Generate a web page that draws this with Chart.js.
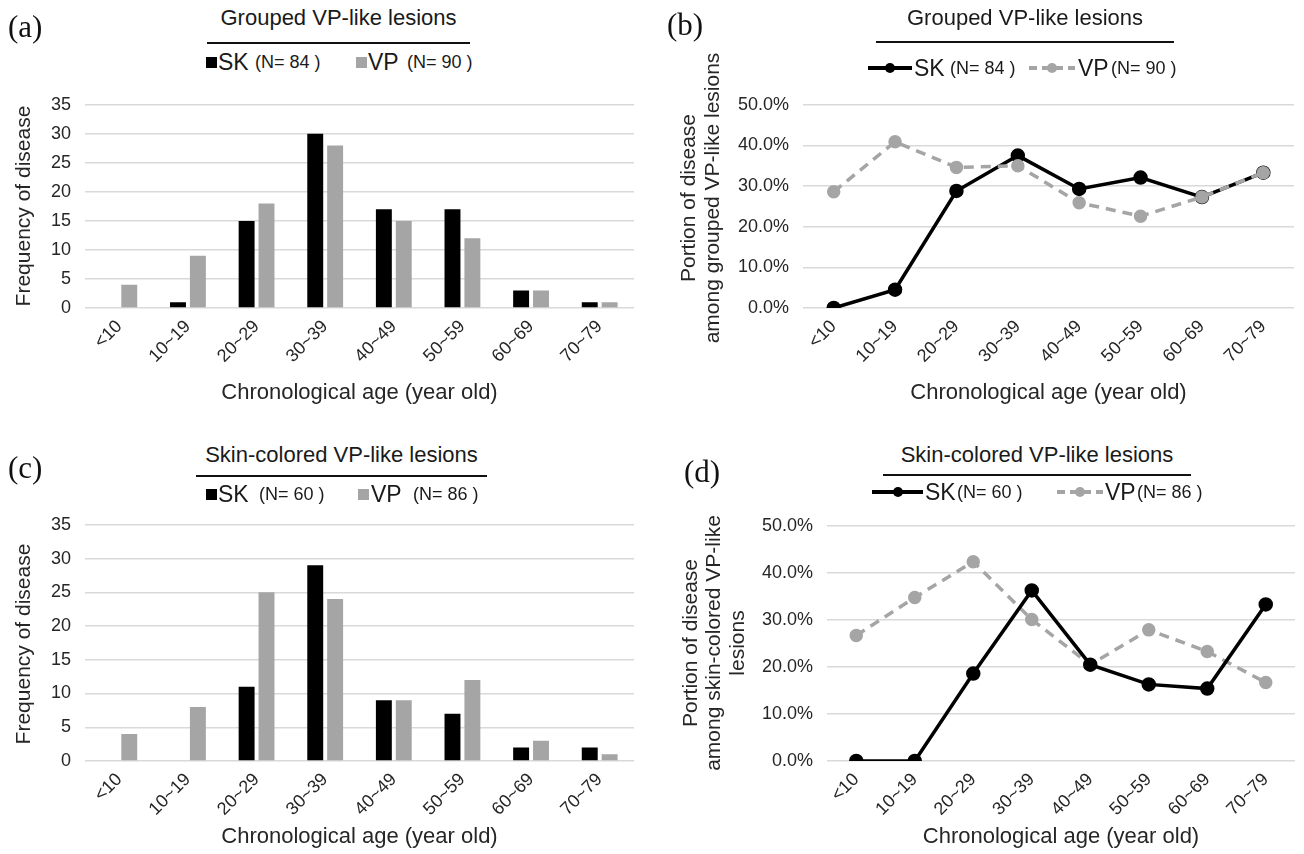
<!DOCTYPE html>
<html>
<head>
<meta charset="utf-8">
<script src="https://cdn.jsdelivr.net/npm/chart.js@4/dist/chart.umd.min.js"></script>
<style>
  html, body { margin: 0; padding: 0; background: #fff; }
  body { width: 1304px; height: 854px; position: relative; overflow: hidden;
         font-family: 'Liberation Sans', Arial, sans-serif; color: #1a1a1a; }
  canvas { position: absolute; }
  .abs { position: absolute; white-space: nowrap; }
  .plabel { font-family: 'Liberation Serif', 'Times New Roman', serif; font-size: 31px; line-height: 34px; color: #111; }
  .ttl { font-size: 22px; line-height: 24px; text-align: center; }
  .big { font-size: 23px; line-height: 26px; }
  .small { font-size: 18px; line-height: 26px; }
  .ytitle { font-size: 21px; line-height: 24px; color: #262626; transform: translate(-50%, -50%) rotate(-90deg); }
</style>
</head>
<body>
<canvas id="chartA" width="650" height="330" style="left:0;top:80px"></canvas>
<canvas id="chartB" width="654" height="330" style="left:650px;top:80px"></canvas>
<canvas id="chartC" width="650" height="350" style="left:0;top:500px"></canvas>
<canvas id="chartD" width="654" height="350" style="left:650px;top:500px"></canvas>
<div id="overlay"></div>
<script>
// 年龄分组
const ageGroups = ['<10', '10~19', '20~29', '30~39', '40~49', '50~59', '60~69', '70~79'];

// (a) grouped VP-like lesions, counts
const groupedSkCount = [0, 1, 15, 30, 17, 17, 3, 1];
const groupedVpCount = [4, 9, 18, 28, 15, 12, 3, 1];

// (b) grouped VP-like lesions, portion (%)
const groupedSkPortion = [0, 4.5, 28.8, 37.5, 29.3, 32.1, 27.3, 33.3];
const groupedVpPortion = [28.6, 40.9, 34.6, 35.0, 25.9, 22.6, 27.3, 33.3];

// (c) skin-colored VP-like lesions, counts
const skinSkCount = [0, 0, 11, 29, 9, 7, 2, 2];
const skinVpCount = [4, 8, 25, 24, 9, 12, 3, 1];

// (d) skin-colored VP-like lesions, portion (%)
const skinSkPortion = [0, 0, 18.6, 36.3, 20.5, 16.3, 15.4, 33.3];
const skinVpPortion = [26.7, 34.8, 42.4, 30.1, 20.5, 27.9, 23.3, 16.7];

const countTicks = [0, 5, 10, 15, 20, 25, 30, 35];
const portionTicks = [0, 10, 20, 30, 40, 50];

const colors = {
    sk: '#000000',
    vp: '#a5a5a5',
    grid: '#d9d9d9',
    text: '#262626'
};

Chart.defaults.font.family = "'Liberation Sans', Arial, sans-serif";
Chart.defaults.color = colors.text;

const xTitle = 'Chronological age (year old)';

function xScale(height, titlePad) {
    return {
        offset: true,
        grid: { display: false, drawTicks: false },
        border: { display: false },
        ticks: { font: { size: 18 }, maxRotation: 45, minRotation: 45, padding: 8, color: colors.text },
        title: { display: true, text: xTitle, font: { size: 22 }, color: colors.text, padding: { top: 0, bottom: titlePad } },
        afterFit: s => { s.height = height; }
    };
}

function yScale(width, max, step, fmt) {
    return {
        min: 0,
        max: max,
        grid: { color: colors.grid, lineWidth: 1.5, drawTicks: false },
        border: { display: false },
        ticks: { stepSize: step, font: { size: 18 }, padding: 14, color: colors.text, callback: fmt },
        afterFit: s => { s.width = width; }
    };
}

function baseOptions(padTop, padRight) {
    return {
        responsive: false,
        animation: false,
        devicePixelRatio: 1,
        layout: { padding: { top: padTop, right: padRight, bottom: 0, left: 0 } },
        plugins: { legend: { display: false }, tooltip: { enabled: false } }
    };
}

function renderBarChart(id, sk, vp, opts) {
    const o = baseOptions(opts.padTop, opts.padRight);
    o.scales = {
        x: xScale(opts.xHeight, opts.xTitlePad),
        y: yScale(opts.yWidth, countTicks[countTicks.length - 1], 5, v => v)
    };
    return new Chart(document.getElementById(id), {
        type: 'bar',
        data: {
            labels: ageGroups,
            datasets: [
                { label: 'SK', data: sk, backgroundColor: colors.sk, barPercentage: 0.8, categoryPercentage: 0.58 },
                { label: 'VP', data: vp, backgroundColor: colors.vp, barPercentage: 0.8, categoryPercentage: 0.58 }
            ]
        },
        options: o
    });
}

function renderLineChart(id, sk, vp, opts) {
    const o = baseOptions(opts.padTop, opts.padRight);
    o.scales = {
        x: xScale(opts.xHeight, opts.xTitlePad),
        y: yScale(opts.yWidth, portionTicks[portionTicks.length - 1], 10, v => v.toFixed(1) + '%')
    };
    return new Chart(document.getElementById(id), {
        type: 'line',
        data: {
            labels: ageGroups,
            datasets: [
                {
                    label: 'SK', data: sk, order: opts.skOrder,
                    borderColor: colors.sk, backgroundColor: colors.sk, borderWidth: 3.5,
                    pointRadius: 5.5, pointBackgroundColor: colors.sk, pointBorderColor: colors.sk, tension: 0
                },
                {
                    label: 'VP', data: vp, order: opts.vpOrder,
                    borderColor: colors.vp, backgroundColor: colors.vp, borderWidth: 3.5, borderDash: [10, 7],
                    pointRadius: 5, pointBackgroundColor: colors.vp, pointBorderColor: colors.vp, tension: 0
                }
            ]
        },
        options: o
    });
}

// 标题、横线、图例、纵轴标题用 HTML 叠加
function addText(cls, text, left, top, extra) {
    const d = document.createElement('div');
    d.className = 'abs ' + cls;
    d.textContent = text;
    d.style.left = left + 'px';
    d.style.top = top + 'px';
    if (extra) Object.assign(d.style, extra);
    document.getElementById('overlay').appendChild(d);
    return d;
}

function addBox(left, top, w, h, style) {
    const d = document.createElement('div');
    d.className = 'abs';
    Object.assign(d.style, { left: left + 'px', top: top + 'px', width: w + 'px', height: h + 'px' }, style);
    document.getElementById('overlay').appendChild(d);
}

function yTitle(lines, xs, cy) {
    lines.forEach((t, i) => addText('ytitle', t, xs[i], cy));
}

function header(h) {
    addText('plabel', h.label, h.labelX, h.labelY - 17);
    addText('ttl', h.title, h.ruleX, h.titleY - 12, { width: h.ruleW + 'px' });
    addBox(h.ruleX, h.ruleY - 1, h.ruleW, 2, { background: '#111' });
    h.items.forEach(it => {
        const y = h.legendY;
        if (it.kind === 'square') {
            addBox(it.x, y - 5, 11, 11, { background: it.color });
        } else if (it.kind === 'line') {
            const st = it.dashed
                ? { backgroundImage: 'repeating-linear-gradient(90deg,' + it.color + ' 0 8px, transparent 8px 13px)' }
                : { background: it.color };
            addBox(it.x, y - 2, it.w, 3.5, st);
            addBox(it.x + it.w / 2 - 5, y - 5, 10, 10, { background: it.color, borderRadius: '50%' });
        }
        addText('big', it.name, it.nameX, y - 13);
        addText('small', it.n, it.nX, y - 13);
    });
}

renderBarChart('chartA', groupedSkCount, groupedVpCount,
    { padTop: 16, padRight: 16, yWidth: 85, xHeight: 102, xTitlePad: 4 });
renderLineChart('chartB', groupedSkPortion, groupedVpPortion,
    { padTop: 17, padRight: 10, yWidth: 153, xHeight: 102, xTitlePad: 4, skOrder: 1, vpOrder: 0 });
renderBarChart('chartC', skinSkCount, skinVpCount,
    { padTop: 22, padRight: 16, yWidth: 85, xHeight: 89, xTitlePad: 0 });
renderLineChart('chartD', skinSkPortion, skinVpPortion,
    { padTop: 26, padRight: 9, yWidth: 177, xHeight: 89, xTitlePad: 0, skOrder: 0, vpOrder: 1 });

yTitle(['Frequency of disease'], [23], 206);
yTitle(['Portion of disease', 'among grouped VP-like lesions'], [688, 712], 198);
yTitle(['Frequency of disease'], [23], 644);
yTitle(['Portion of disease', 'among skin-colored VP-like', 'lesions'], [690, 713, 737], 643);

header({
    label: '(a)', labelX: 8, labelY: 27, title: 'Grouped VP-like lesions', titleY: 18,
    ruleX: 207, ruleW: 263, ruleY: 43, legendY: 62,
    items: [
        { kind: 'square', x: 206, color: colors.sk, name: 'SK', nameX: 218, n: '(N= 84 )', nX: 255 },
        { kind: 'square', x: 356, color: colors.vp, name: 'VP', nameX: 368, n: '(N= 90 )', nX: 407 }
    ]
});
header({
    label: '(b)', labelX: 667, labelY: 25, title: 'Grouped VP-like lesions', titleY: 18,
    ruleX: 876, ruleW: 298, ruleY: 42, legendY: 68,
    items: [
        { kind: 'line', x: 868, w: 44, color: colors.sk, name: 'SK', nameX: 914, n: '(N= 84 )', nX: 950 },
        { kind: 'line', x: 1029, w: 46, dashed: true, color: colors.vp, name: 'VP', nameX: 1078, n: '(N= 90 )', nX: 1111 }
    ]
});
header({
    label: '(c)', labelX: 8, labelY: 468, title: 'Skin-colored VP-like lesions', titleY: 455,
    ruleX: 196, ruleW: 291, ruleY: 476, legendY: 494,
    items: [
        { kind: 'square', x: 206, color: colors.sk, name: 'SK', nameX: 218, n: '(N= 60 )', nX: 259 },
        { kind: 'square', x: 358, color: colors.vp, name: 'VP', nameX: 371, n: '(N= 86 )', nX: 413 }
    ]
});
header({
    label: '(d)', labelX: 684, labelY: 472, title: 'Skin-colored VP-like lesions', titleY: 455,
    ruleX: 883, ruleW: 308, ruleY: 475, legendY: 492,
    items: [
        { kind: 'line', x: 872, w: 51, color: colors.sk, name: 'SK', nameX: 925, n: '(N= 60 )', nX: 957 },
        { kind: 'line', x: 1057, w: 46, dashed: true, color: colors.vp, name: 'VP', nameX: 1105, n: '(N= 86 )', nX: 1137 }
    ]
});
</script>
</body>
</html>
